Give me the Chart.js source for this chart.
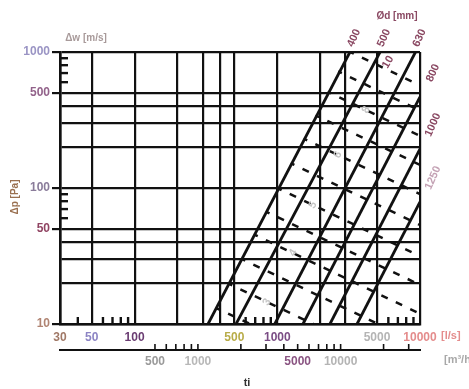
<!DOCTYPE html>
<html>
<head>
<meta charset="utf-8">
<script src="https://cdn.jsdelivr.net/npm/chart.js@4.4.1/dist/chart.umd.min.js"></script>
<style>
  html, body { margin: 0; padding: 0; background: #fff; }
</style>
</head>
<body>
<canvas id="chart" width="469" height="389"></canvas>
<script>
// flow axis [l/s]
const flowGrid = [30, 50, 100, 200, 300, 400, 500, 1000, 2000, 3000, 5000, 10000];
const flowLabels = [30, 50, 100, 500, 1000, 5000, 10000];
const flowMinor = [40, 60, 70, 80, 90, 600, 700, 800, 900, 6000, 7000, 8000, 9000];

// pressure axis [Pa]
const dpGrid = [10, 20, 30, 40, 50, 100, 200, 300, 400, 500, 1000];
const dpLabels = [10, 50, 100, 500, 1000];
const dpMinor = [60, 70, 80, 90, 600, 700, 800, 900];

// second flow axis [m3/h]
const m3hLabels = [500, 1000, 5000, 10000];
const m3hTicks = [500, 600, 700, 800, 900, 1000, 2000, 3000, 4000, 5000,
                  6000, 7000, 8000, 9000, 10000, 20000, 30000];

// duct diameter lines (solid), start and end
const diameters = ['400', '500', '630', '800', '1000', '1250'];
const ductStartFlow = [327, 514, 960, 1514, 2339, 3622];
const ductStartDp = [10, 10, 10, 10, 10, 10];
const ductEndFlow = [3230, 5250, 9300, 10000, 10000, 10000];
const ductEndDp = [1000, 1000, 1000, 467, 194, 79];

// dashed lines, start on the 400 line (or top edge), end at right edge or bottom
const dashStartFlow = [3243, 2672, 2252, 1855, 1529, 1243, 1011, 832, 688, 562, 456, 374];
const dashStartDp = [1000, 719, 510, 342, 231, 152, 99.5, 67.1, 45.5, 30.1, 19.8, 13.1];
const dashEndFlow = [10000, 10000, 10000, 10000, 10000, 10000, 10000, 10000, 10000, 5087, 1781, 646];
const dashEndDp = [569, 371, 242, 148, 90.2, 53.5, 31.6, 19.4, 11.9, 10, 10, 10];

// labels sitting in the band between the 500 and 630 lines
const dashNames = ['10', '8', '6', '5', '4', '3'];
const dashLabelFlow = [5970, 4190, 2661, 1778, 1289, 847];
const dashLabelDp = [843, 375, 175, 75, 33.3, 14.5];

const LS_TO_M3H = 3.6;
const INK = '#111';
const MAROON = '#8a4862';

const xLabelColors = {30: '#a07866', 50: '#8c84c4', 100: '#6a3c72', 500: '#b8ac48',
                      1000: '#7a4c84', 5000: '#b4b4b4', 10000: '#e48c8c'};
const yLabelColors = {10: '#b08472', 50: '#904462', 100: '#8a7c9a', 500: '#92628a', 1000: '#9a94c4'};
const x2LabelColors = {500: '#9a9a9a', 1000: '#b8b8b8', 5000: '#8a5482', 10000: '#b4b4b4'};

const tickFont = {family: '"Liberation Sans", Arial, sans-serif', size: 12, weight: 'bold'};

let datasets = [];
diameters.forEach((d, i) => {
    datasets.push({
        label: d,
        data: [{x: ductStartFlow[i], y: ductStartDp[i]}, {x: ductEndFlow[i], y: ductEndDp[i]}],
        showLine: true,
        borderColor: INK,
        borderWidth: 2.8,
        pointRadius: 0
    });
});
dashStartFlow.forEach((q, i) => {
    datasets.push({
        label: 'dash' + i,
        data: [{x: q, y: dashStartDp[i]}, {x: dashEndFlow[i], y: dashEndDp[i]}],
        showLine: true,
        borderColor: INK,
        borderWidth: 2.5,
        borderDash: [7, 9],
        borderDashOffset: 3,
        pointRadius: 0
    });
});

function stroke(ctx, x1, y1, x2, y2) {
    ctx.beginPath();
    ctx.moveTo(x1, y1);
    ctx.lineTo(x2, y2);
    ctx.stroke();
}

function rotText(ctx, text, x, y, angle, color, font) {
    ctx.save();
    ctx.translate(x, y);
    ctx.rotate(angle * Math.PI / 180);
    ctx.fillStyle = color;
    ctx.font = font;
    ctx.textAlign = 'center';
    ctx.textBaseline = 'middle';
    ctx.fillText(text, 0, 0);
    ctx.restore();
}

const overlay = {
    id: 'overlay',
    afterDraw(chart) {
        const {ctx, chartArea: a} = chart;
        const x = chart.scales.x, y = chart.scales.y, x2 = chart.scales.x2;
        ctx.save();
        ctx.strokeStyle = INK;
        ctx.lineWidth = 2.4;
        flowMinor.forEach(v => {
            const px = x.getPixelForValue(v);
            stroke(ctx, px, a.bottom, px, a.bottom - 7);
        });
        dpMinor.forEach(v => {
            const py = y.getPixelForValue(v);
            stroke(ctx, a.left, py, a.left + 8, py);
        });
        ctx.lineWidth = 1.6;
        m3hTicks.forEach(v => {
            const px = x2.getPixelForValue(v);
            stroke(ctx, px, x2.top, px, x2.top - 6);
        });

        const bold = 'bold 11px "Liberation Sans", Arial, sans-serif';
        // diameter labels at the line ends
        diameters.forEach((d, i) => {
            const ex = x.getPixelForValue(ductEndFlow[i]);
            const ey = y.getPixelForValue(ductEndDp[i]);
            const atTop = ey <= a.top + 1;
            const col = i == 5 ? '#c4a2b4' : MAROON;
            rotText(ctx, d, ex + (atTop ? 4 : 13), ey + (atTop ? -14 : -24), -66, col, bold);
        });
        // dashed line labels
        dashNames.forEach((n, i) => {
            const px = x.getPixelForValue(dashLabelFlow[i]);
            const py = y.getPixelForValue(dashLabelDp[i]);
            rotText(ctx, n, px, py, -60, i == 0 ? MAROON : '#c6c6c6', bold);
        });

        ctx.textBaseline = 'middle';
        ctx.textAlign = 'left';
        ctx.font = bold;
        ctx.fillStyle = '#e48c8c';
        ctx.fillText('[l/s]', x.getPixelForValue(10000) + 21, 336);
        ctx.fillStyle = '#a8a8a8';
        ctx.fillText('[m³/h]', x2.getPixelForValue(36000) + 24, 360);

        ctx.fillStyle = MAROON;
        ctx.textAlign = 'center';
        ctx.font = 'bold 10px "Liberation Sans", Arial, sans-serif';
        ctx.fillText('Ød [mm]', 397, 16);

        ctx.fillStyle = '#a89a9a';
        ctx.fillText('Δw [m/s]', 86, 38);

        rotText(ctx, 'Δp [Pa]', 15, 197, -90, '#9a7050', 'bold 10px "Liberation Sans", Arial, sans-serif');

        ctx.fillStyle = '#333';
        ctx.font = 'bold 11px "Liberation Sans", Arial, sans-serif';
        ctx.fillText('ti', 247, 383);
        ctx.restore();
    }
};

new Chart(document.getElementById('chart'), {
    type: 'scatter',
    data: {datasets: datasets},
    options: {
        responsive: false,
        animation: false,
        layout: {padding: {top: 52, right: 49, left: 0, bottom: 0}},
        plugins: {legend: {display: false}, tooltip: {enabled: false}},
        scales: {
            x: {
                type: 'logarithmic',
                position: 'bottom',
                min: 30,
                max: 10000,
                afterBuildTicks: s => { s.ticks = flowGrid.map(v => ({value: v})); },
                afterFit: s => { s.height = 26; },
                ticks: {
                    autoSkip: false,
                    maxRotation: 0,
                    padding: 6,
                    font: tickFont,
                    color: c => xLabelColors[c.tick.value] || INK,
                    callback: v => flowLabels.includes(v) ? String(v) : ''
                },
                grid: {color: INK, lineWidth: 2.2, drawTicks: false},
                border: {color: INK, width: 2.6}
            },
            x2: {
                type: 'logarithmic',
                position: 'bottom',
                min: 30 * LS_TO_M3H,
                max: 10000 * LS_TO_M3H,
                afterBuildTicks: s => { s.ticks = m3hLabels.map(v => ({value: v})); },
                afterFit: s => { s.height = 39; },
                ticks: {
                    autoSkip: false,
                    maxRotation: 0,
                    padding: 4,
                    font: tickFont,
                    color: c => x2LabelColors[c.tick.value] || INK,
                    callback: v => String(v)
                },
                grid: {drawOnChartArea: false, drawTicks: false},
                border: {color: INK, width: 2}
            },
            y: {
                type: 'logarithmic',
                min: 10,
                max: 1000,
                afterBuildTicks: s => { s.ticks = dpGrid.map(v => ({value: v})); },
                afterFit: s => { s.width = 60; },
                ticks: {
                    autoSkip: false,
                    padding: 2,
                    font: tickFont,
                    color: c => yLabelColors[c.tick.value] || INK,
                    callback: v => dpLabels.includes(v) ? String(v) : ''
                },
                grid: {
                    color: INK,
                    lineWidth: 2.2,
                    tickLength: 8,
                    tickColor: c => dpLabels.includes(c.tick.value) ? INK : 'rgba(0,0,0,0)'
                },
                border: {color: INK, width: 2.6}
            }
        }
    },
    plugins: [overlay]
});
</script>
</body>
</html>
